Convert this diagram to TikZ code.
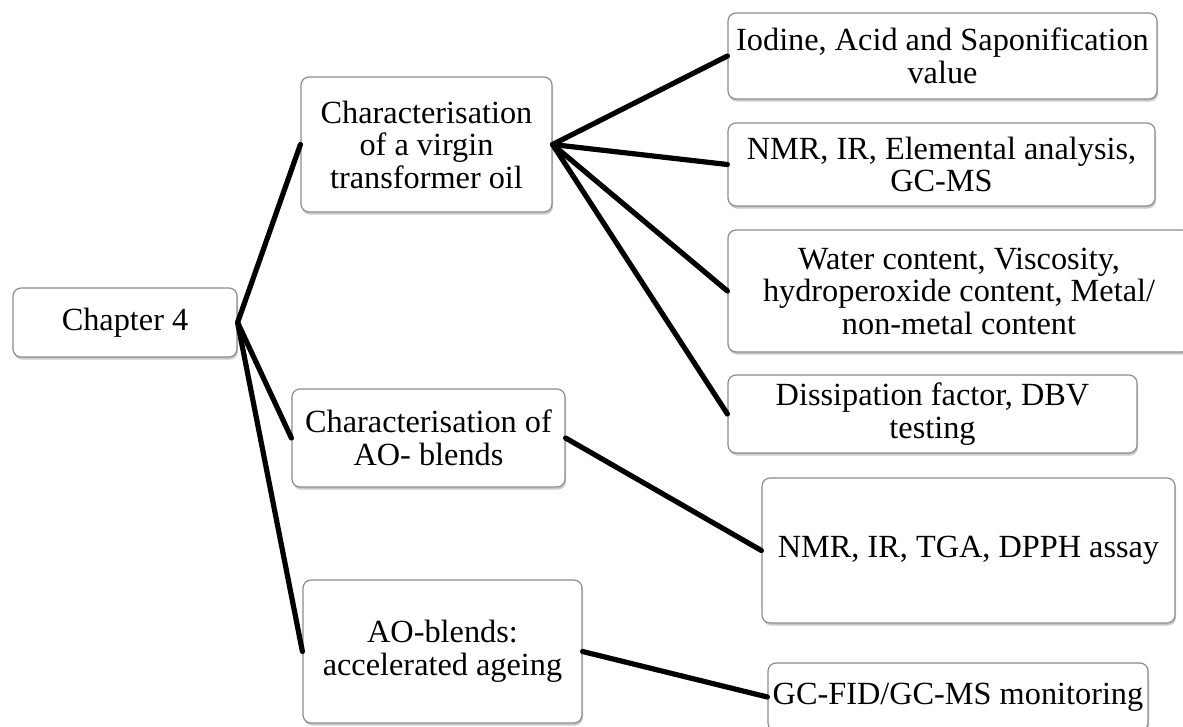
\documentclass[tikz,border=0pt]{standalone}
\usepackage{fontspec}
\setmainfont{Liberation Serif}
\usetikzlibrary{shadows}
\definecolor{boxline}{HTML}{8C8C8C}
\begin{document}
\begin{tikzpicture}[x=1pt,y=-1pt,
  box/.style={draw=boxline, line width=1.2pt, fill=white, rounded corners=8pt,
    align=center, inner sep=0pt,
    font=\fontsize{32.3}{32.5}\selectfont,
    drop shadow={shadow xshift=1pt, shadow yshift=-2.5pt, opacity=0.35, fill=black!60}},
  conn/.style={line width=5.2pt, line cap=round, black}]
\useasboundingbox (0,0) rectangle (1183,726);
\node[box, minimum width=224pt, minimum height=69pt]  (ch4) at (125,322.5) {Chapter 4};
\node[box, minimum width=251pt, minimum height=135pt] (vir) at (426.5,144.5) {Characterisation\\of a virgin\\transformer oil};
\node[box, minimum width=273pt, minimum height=98pt]  (aoc) at (428.5,438) {Characterisation of\\AO- blends};
\node[box, minimum width=279pt, minimum height=143pt] (acc) at (442.5,651.5) {AO-blends:\\accelerated ageing};
\node[box, minimum width=429pt, minimum height=86pt]  (iod) at (942.5,56) {Iodine, Acid and Saponification\\value};
\node[box, minimum width=427pt, minimum height=83pt]  (nmr) at (941.5,164.5) {NMR, IR, Elemental analysis,\\GC-MS};
\node[box, minimum width=462pt, minimum height=122pt] (wat) at (959,291) {Water content, Viscosity,\\hydroperoxide content, Metal/\\non-metal content};
\node[box, minimum width=409pt, minimum height=78pt]  (dis) at (932.5,414) {Dissipation factor, DBV\\testing};
\node[box, minimum width=413pt, minimum height=145pt] (tga) at (968.5,550.5) {NMR, IR, TGA, DPPH assay};
\node[box, minimum width=380pt, minimum height=68pt]  (gcf) at (958,697) {GC-FID/GC-MS monitoring};
\draw[conn] (ch4.east) -- (vir.west);
\draw[conn] (ch4.east) -- (aoc.west);
\draw[conn] (ch4.east) -- (acc.west);
\draw[conn] (vir.east) -- (iod.west);
\draw[conn] (vir.east) -- (nmr.west);
\draw[conn] (vir.east) -- (wat.west);
\draw[conn] (vir.east) -- (dis.west);
\draw[conn] (aoc.east) -- (tga.west);
\draw[conn] (acc.east) -- (gcf.west);
\end{tikzpicture}
\end{document}
